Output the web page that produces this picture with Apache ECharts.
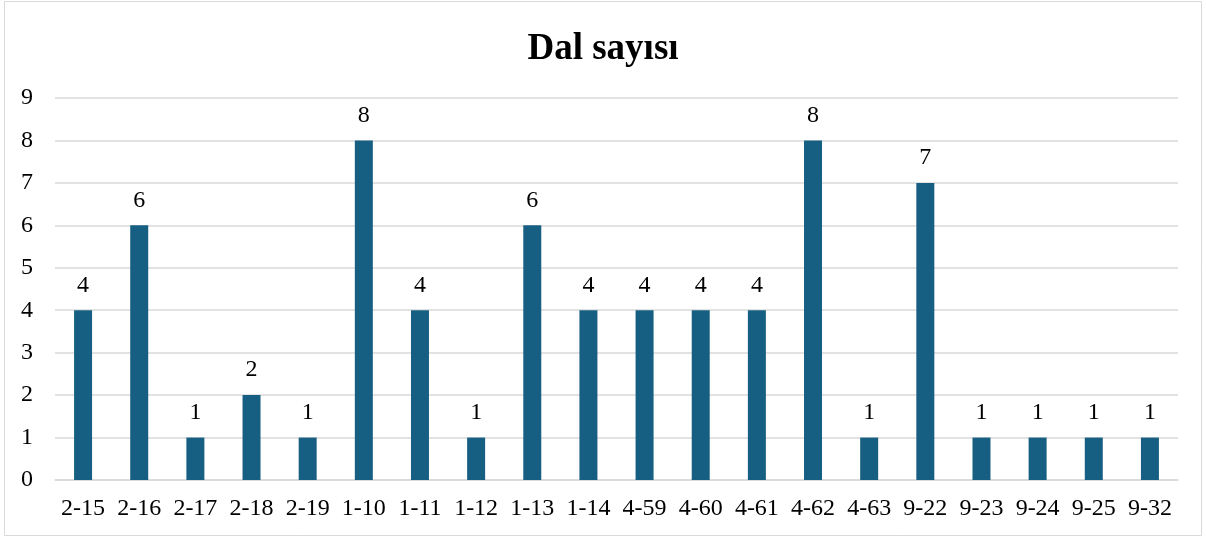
<!DOCTYPE html>
<html>
<head>
<meta charset="utf-8">
<script src="https://cdn.jsdelivr.net/npm/echarts@6/dist/echarts.min.js"></script>
<style>
  html, body { margin: 0; padding: 0; background: #fff; }
  #chart { width: 1206px; height: 538px; }
</style>
</head>
<body>
<div id="chart"></div>
<script>
    // kategoriler ve degerler
    var categories = ['2-15', '2-16', '2-17', '2-18', '2-19', '1-10', '1-11', '1-12', '1-13', '1-14',
        '4-59', '4-60', '4-61', '4-62', '4-63', '9-22', '9-23', '9-24', '9-25', '9-32'];
    var dalSayisi = [4, 6, 1, 2, 1, 8, 4, 1, 6, 4, 4, 4, 4, 8, 1, 7, 1, 1, 1, 1];
    var chartTitle = 'Dal sayısı';

    var font = '"Liberation Serif", "Times New Roman", serif';
    var myChart = echarts.init(document.getElementById('chart'));

    myChart.setOption({
        animation: false,
        title: {
            text: chartTitle,
            left: 'center',
            top: 26,
            textStyle: { fontFamily: font, fontSize: 37, fontWeight: 'bold', color: '#000' }
        },
        graphic: [{
            type: 'rect',
            shape: { x: 4.5, y: 1.5, width: 1197, height: 534 },
            style: { fill: 'none', stroke: '#d9d9d9', lineWidth: 1 },
            silent: true
        }],
        grid: { left: 55, right: 28, top: 98, bottom: 58 },
        xAxis: {
            type: 'category',
            data: categories,
            axisLine: { lineStyle: { color: '#d9d9d9', width: 1.5 } },
            axisTick: { show: false },
            axisLabel: { fontFamily: font, fontSize: 24, color: '#000', margin: 17, interval: 0 }
        },
        yAxis: {
            type: 'value',
            min: 0,
            max: 9,
            interval: 1,
            axisLine: { show: false },
            axisTick: { show: false },
            splitLine: { lineStyle: { color: '#d9d9d9', width: 1.5 } },
            axisLabel: { fontFamily: font, fontSize: 24, color: '#000', margin: 22 }
        },
        series: [{
            type: 'bar',
            data: dalSayisi,
            barWidth: 18,
            itemStyle: { color: '#175f82' },
            label: {
                show: true,
                position: 'top',
                distance: 13,
                fontFamily: font,
                fontSize: 24,
                color: '#000'
            }
        }]
    });
</script>
</body>
</html>
